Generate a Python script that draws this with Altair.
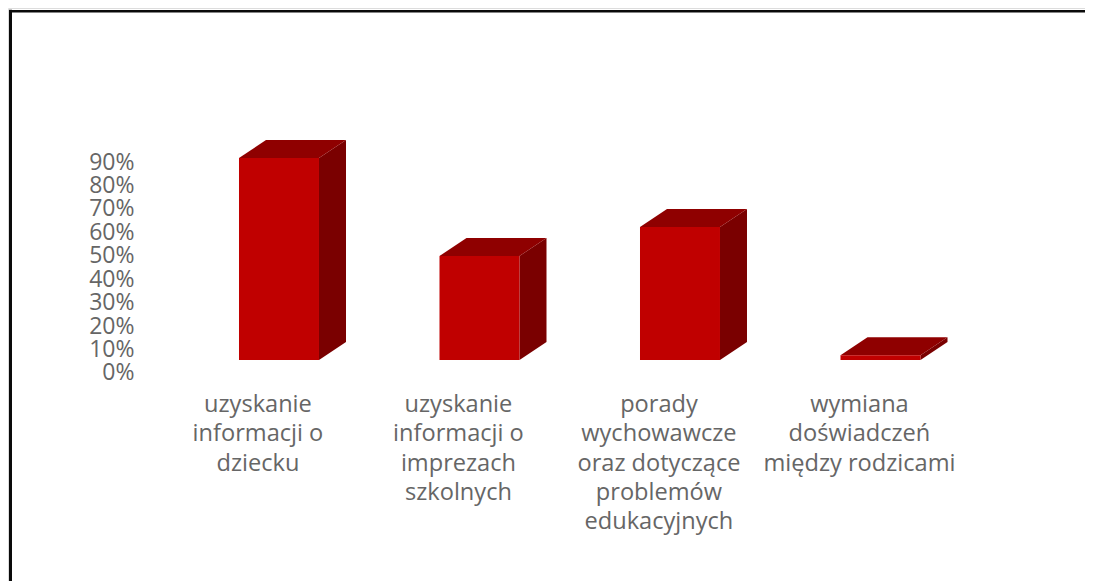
import altair as alt
import pandas as pd

categories = [
    "uzyskanie\ninformacji o\ndziecku",
    "uzyskanie\ninformacji o\nimprezach\nszkolnych",
    "porady\nwychowawcze\noraz dotyczące\nproblemów\nedukacyjnych",
    "wymiana\ndoświadczeń\nmiędzy rodzicami",
]
values = [86.2, 44.4, 56.7, 2.0]
axis_ticks = [0, 10, 20, 30, 40, 50, 60, 70, 80, 90]

FLOOR = 5.1        # height of the 3D floor on the percent axis
HALF = 0.1995      # half bar width, in category units
DX = 0.1347        # depth of the box, in category units
DY = 7.7           # depth of the box, in percent units
LABEL_SHIFT = -0.105

front, side, top = [], [], []
for i, (c, v) in enumerate(zip(categories, values)):
    l, r = i - HALF, i + HALF
    t = FLOOR + v
    front.append(dict(i=i, c=c, x=l, x2=r, y=FLOOR, y2=t, lx=i + LABEL_SHIFT))
    side += [
        dict(i=i, x=r, y=FLOOR, y2=t),
        dict(i=i, x=r + DX, y=FLOOR + DY, y2=t + DY),
    ]
    top += [
        dict(i=i, x=l, y=t, y2=t),
        dict(i=i, x=l + DX, y=t, y2=t + DY),
        dict(i=i, x=r, y=t, y2=t + DY),
        dict(i=i, x=r + DX, y=t + DY, y2=t + DY),
    ]

W, H = 1077, 573
xs = alt.Scale(domain=[-1.3516, 4.02], range=[0, W], nice=False, zero=False)
ys = alt.Scale(domain=[-89.2, 155.3], range=[H, 0], nice=False, zero=False)
y_axis = alt.Axis(
    values=axis_ticks, labelExpr="datum.value + '%'", title=None, domain=False,
    ticks=False, grid=False, labelPadding=0, offset=-126, orient="left",
    labelFont="Open Sans", labelFontSize=23, labelColor="#666666", labelOverlap=False,
    labelOffset=1)
X = alt.X("x:Q", scale=xs, axis=None)
Y = alt.Y("y:Q", scale=ys, axis=y_axis)

side_l = alt.Chart(pd.DataFrame(side)).mark_area(color="#7a0000", orient="vertical").encode(
    x=X, y=Y, y2="y2:Q", detail="i:N")
top_l = alt.Chart(pd.DataFrame(top)).mark_area(color="#8f0000", orient="vertical").encode(
    x=X, y=Y, y2="y2:Q", detail="i:N")
front_l = alt.Chart(pd.DataFrame(front)).mark_rect(color="#c00000").encode(
    x=X, x2="x2:Q", y=Y, y2="y2:Q")

labels_l = alt.Chart(pd.DataFrame(front)).mark_text(
    font="Open Sans", fontSize=23.6, color="#666666", lineBreak="\n", lineHeight=29.3,
    baseline="top", align="center",
).encode(
    x=alt.X("lx:Q", scale=xs, axis=None),
    y=alt.value(385),
    text="c:N",
)

frame_v = alt.Chart(pd.DataFrame({"a": [0]})).mark_rule(color="#0a0a0a", strokeWidth=3).encode(
    x=alt.value(2.5), y=alt.value(1.7), y2=alt.value(H))
frame_h = alt.Chart(pd.DataFrame({"a": [0]})).mark_rule(color="#0a0a0a", strokeWidth=2.6).encode(
    y=alt.value(3.2), x=alt.value(1), x2=alt.value(W))

chart = alt.layer(side_l, top_l, front_l, labels_l, frame_v, frame_h).properties(
    width=W, height=H, padding=0,
    autosize=alt.AutoSizeParams(type="none"),
).configure_view(stroke=None).configure(background="white")

chart.save("out.html", embed_options={"renderer": "svg", "actions": False})
